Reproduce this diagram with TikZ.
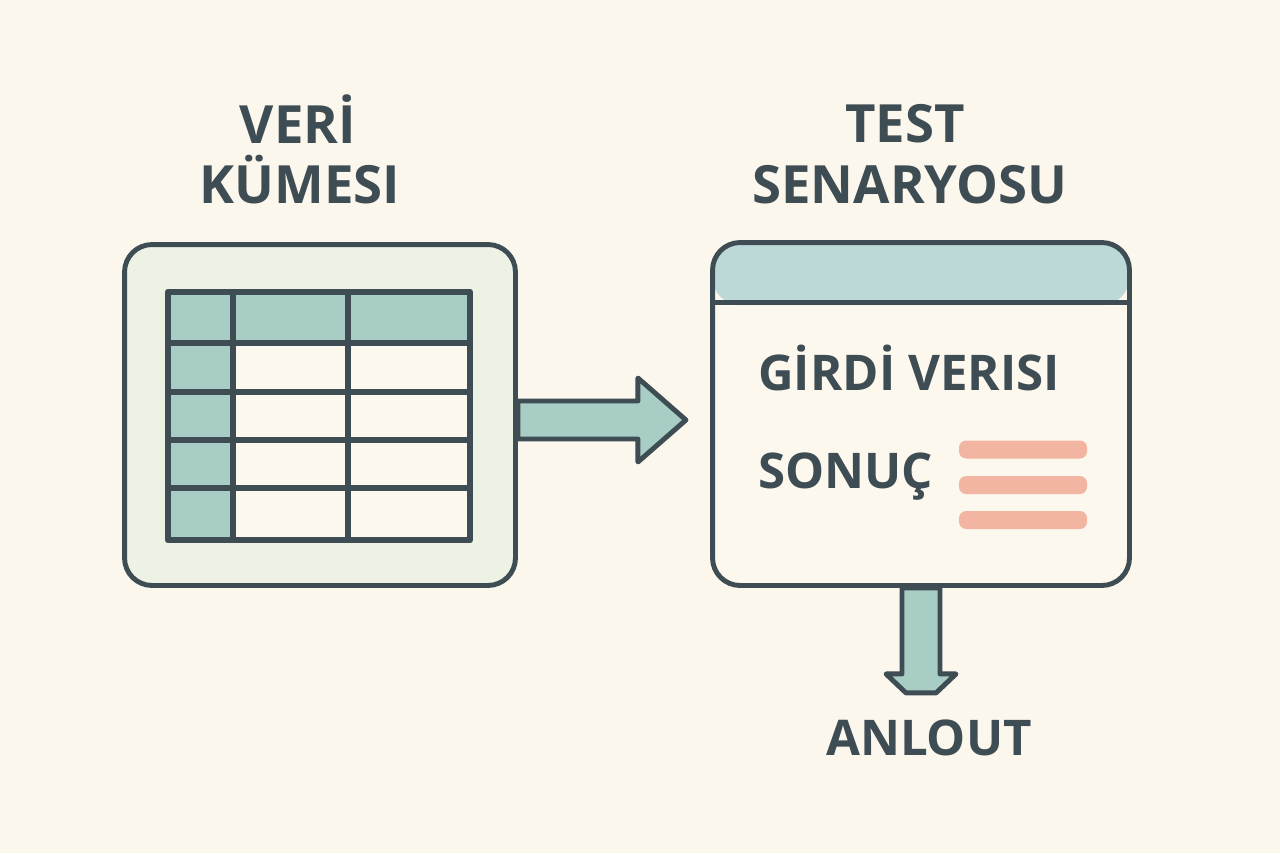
\documentclass[tikz,border=0pt]{standalone}
\usepackage{fontspec}
\setmainfont{Open Sans}
\usetikzlibrary{calc}

\definecolor{bgcol}{HTML}{FCF7EC}
\definecolor{ink}{HTML}{3E4C54}
\definecolor{tealfill}{HTML}{A8CDC4}
\definecolor{leftfill}{HTML}{EEF2E4}
\definecolor{cellfill}{HTML}{FDF8EE}
\definecolor{headfill}{HTML}{BDD9D7}
\definecolor{salmon}{HTML}{F2B5A2}

\begin{document}
\begin{tikzpicture}[
    x=0.02cm,
    y=-0.02cm,
    box/.style={
        draw=ink,
        line width=2.8pt,
        rounded corners=0.55cm,
        inner sep=0pt
    },
    headline/.style={
        text=ink,
        font=\fontsize{30}{36}\selectfont\bfseries,
        anchor=base,
        inner sep=0pt
    },
    boxtext/.style={
        text=ink,
        font=\fontsize{28}{34}\selectfont\bfseries,
        anchor=base west,
        inner sep=0pt
    },
    tableline/.style={
        draw=ink,
        line width=3.6pt,
        line join=round
    },
    fatarrow/.style={
        draw=ink,
        fill=tealfill,
        line width=2.8pt,
        line join=round
    },
    resultbar/.style={
        fill=salmon,
        rounded corners=4pt
    }]

% Background
\fill[bgcol] (0,0) rectangle (1280,853);
\useasboundingbox (0,0) rectangle (1280,853);

% Titles
\node[headline] (dstitle) at (298,143)
{VERİ};

\node[headline] (dstitle2) at (300,203)
{KÜMESI};

\node[headline] (tctitle) at (905,142)
{TEST};

\node[headline] (tctitle2) at (910,203)
{SENARYOSU};


% Data set
\node[
    box,
    fill=leftfill,
    minimum width=7.82cm,
    minimum height=6.82cm
] (dataset) at (320,415) {};

\fill[tealfill] (168,292) rectangle (470,343);
\fill[tealfill] (168,292) rectangle (233,540);
\fill[cellfill] (233,343) rectangle (470,540);
\draw[tableline] (168,292) rectangle (470,540);
\foreach \y in {343,392,440,488}
    \draw[tableline] (168,\y) -- (470,\y);
\foreach \x in {233,348}
    \draw[tableline] (\x,292) -- (\x,540);


% Test case
\node[
    box,
    fill=cellfill,
    minimum width=8.34cm,
    minimum height=6.86cm,
    path picture={
        \fill[headfill] (path picture bounding box.north west)
        rectangle ([yshift=-1.25cm]path picture bounding box.north east);
    }
] (testcase) at (921,414) {};

\draw[ink, line width=2.8pt]
([yshift=-1.25cm]testcase.north west)
-- ([yshift=-1.25cm]testcase.north east);

\node[boxtext] (input) at (758,390)
{GİRDİ VERISI};

\node[boxtext] (result) at (758,488)
{SONUÇ};

\foreach \y in {449.5,485,520}
    \fill[resultbar] (959,\y-9) rectangle (1087,\y+9);


% Arrows
\draw[fatarrow]
($(dataset.east)+(0,-14)$)
-- ++(120,0) -- ++(0,-23) -- ++(48,42)
-- ++(-48,42) -- ++(0,-23) -- ++(-120,0) -- cycle;

\draw[fatarrow]
($(testcase.south)+(-19,0)$)
-- ++(0,86) -- ++(-16,0) -- ++(20,19) -- ++(30,0)
-- ++(20,-19) -- ++(-16,0) -- ++(0,-86) -- cycle;


% Output
\node[headline, font=\fontsize{28}{34}\selectfont\bfseries] (outcome) at (929,755)
{ANLOUT};

\end{tikzpicture}
\end{document}
